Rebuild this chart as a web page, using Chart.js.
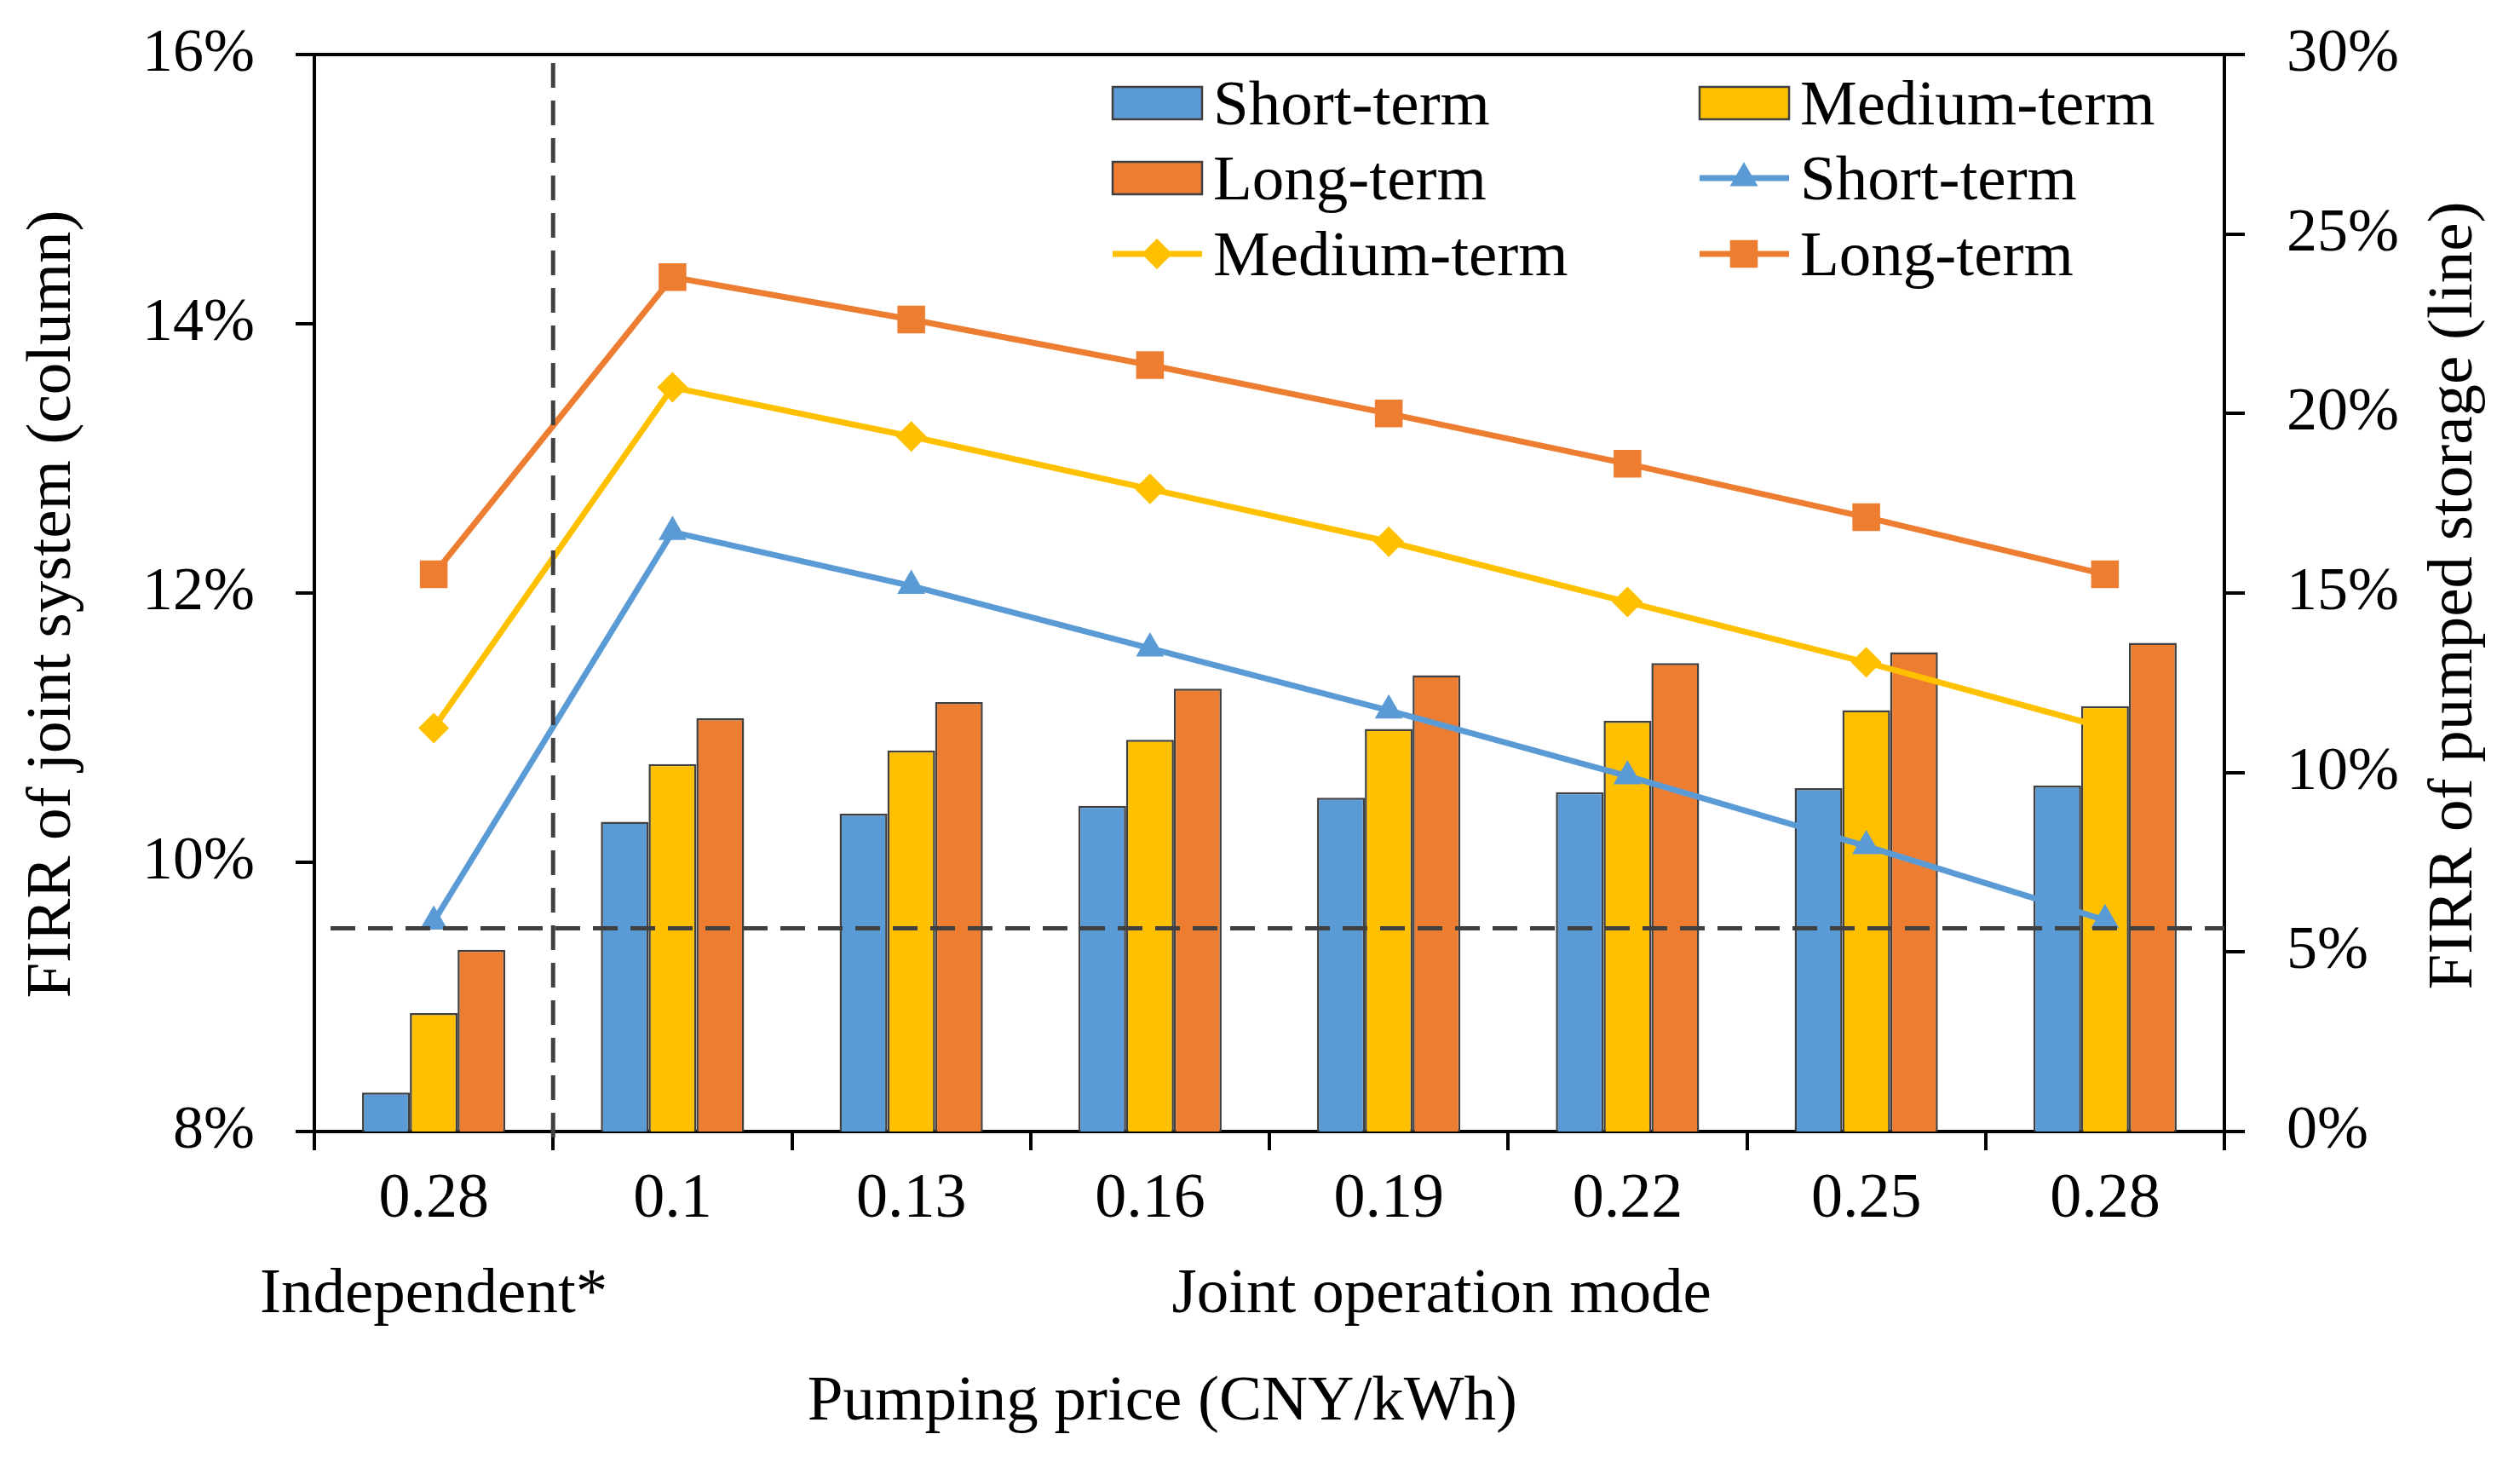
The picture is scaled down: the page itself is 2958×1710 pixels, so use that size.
<!DOCTYPE html>
<html>
<head>
<meta charset="utf-8">
<script src="https://cdn.jsdelivr.net/npm/chart.js@4.4.1/dist/chart.umd.min.js"></script>
<style>
  html, body { margin: 0; padding: 0; background: #fff; }
  #wrap { width: 2958px; height: 1710px; }
</style>
</head>
<body>
<div id="wrap"><canvas id="firrChart" width="2958" height="1710"></canvas></div>
<script>
// Pumping price categories (first one is the independent mode)
const categories = ['0.28', '0.1', '0.13', '0.16', '0.19', '0.22', '0.25', '0.28'];

// FIRR of joint system (column, left axis, %)
const barShort = [8.29, 10.30, 10.36, 10.42, 10.48, 10.52, 10.55, 10.57];
const barMedium = [8.88, 10.73, 10.83, 10.91, 10.99, 11.05, 11.13, 11.16];
const barLong = [9.35, 11.07, 11.19, 11.29, 11.39, 11.48, 11.56, 11.63];

// FIRR of pumped storage (line, right axis, %)
const lineShort = [5.85, 16.7, 15.2, 13.46, 11.73, 9.9, 7.95, 5.89];
const lineMedium = [11.24, 20.73, 19.36, 17.9, 16.43, 14.75, 13.07, 11.25];
const lineLong = [15.52, 23.8, 22.62, 21.35, 20.0, 18.6, 17.11, 15.52];

// benchmark line on the left axis (%)
const benchmark = 9.51;

const FONT = '"Liberation Serif", "Times New Roman", serif';
const BLUE = '#5B9BD5';
const YELLOW = '#FFC000';
const ORANGE = '#ED7D31';
const EDGE = '#404040';

// Dashed reference lines
const dashPlugin = {
  id: 'dashLines',
  afterDatasetsDraw(chart) {
    const { ctx, chartArea } = chart;
    const x = chart.scales.x;
    const y = chart.scales.y;
    const xb = (x.getPixelForValue(0) + x.getPixelForValue(1)) / 2;
    const yb = y.getPixelForValue(benchmark);
    ctx.save();
    ctx.strokeStyle = EDGE;
    ctx.lineWidth = 5;
    ctx.setLineDash([29, 15]);
    ctx.beginPath();
    ctx.moveTo(chartArea.left + 19, yb);
    ctx.lineTo(chartArea.right, yb);
    ctx.stroke();
    ctx.beginPath();
    ctx.moveTo(xb, chartArea.top + 10);
    ctx.lineTo(xb, chartArea.bottom + 22);
    ctx.stroke();
    ctx.restore();
  }
};

// Two-column legend in the upper right of the plot
const legendItems = [
  { ds: 0, col: 0, row: 0 }, { ds: 1, col: 1, row: 0 },
  { ds: 2, col: 0, row: 1 }, { ds: 3, col: 1, row: 1 },
  { ds: 4, col: 0, row: 2 }, { ds: 5, col: 1, row: 2 }
];
const legendPlugin = {
  id: 'boxLegend',
  afterDraw(chart) {
    const ctx = chart.ctx;
    const colX = [1306, 1995];
    const rowY = [121, 209, 298];
    ctx.save();
    ctx.font = `75px ${FONT}`;
    ctx.textAlign = 'left';
    ctx.textBaseline = 'alphabetic';
    legendItems.forEach(item => {
      const ds = chart.data.datasets[item.ds];
      const x = colX[item.col];
      const y = rowY[item.row];
      if (ds.type === 'bar') {
        ctx.fillStyle = ds.backgroundColor;
        ctx.fillRect(x, y - 19, 105, 38);
        ctx.strokeStyle = ds.borderColor;
        ctx.lineWidth = 2.5;
        ctx.strokeRect(x, y - 19, 105, 38);
      } else {
        ctx.strokeStyle = ds.borderColor;
        ctx.lineWidth = ds.borderWidth;
        ctx.beginPath();
        ctx.moveTo(x, y);
        ctx.lineTo(x + 105, y);
        ctx.stroke();
        ctx.fillStyle = ds.pointBackgroundColor;
        Chart.helpers.drawPoint(ctx, { pointStyle: ds.pointStyle, radius: ds.pointRadius, borderWidth: 0, rotation: 0 }, x + 52, y);
      }
      ctx.fillStyle = '#000';
      ctx.fillText(ds.label, x + 118, y + 25);
    });
    ctx.restore();
  }
};

// Axis titles and group labels under the category axis
const textPlugin = {
  id: 'axisTexts',
  afterDraw(chart) {
    const { ctx, chartArea } = chart;
    const x = chart.scales.x;
    ctx.save();
    ctx.fillStyle = '#000';
    ctx.font = `75px ${FONT}`;
    ctx.textAlign = 'center';
    ctx.textBaseline = 'alphabetic';
    ctx.fillText('Independent*', x.getPixelForValue(0), 1540);
    ctx.fillText('Joint operation mode', (x.getPixelForValue(1) + chartArea.right) / 2 - 8, 1540);
    ctx.fillText('Pumping price (CNY/kWh)', chartArea.left + 0.444 * (chartArea.right - chartArea.left), 1666);

    ctx.textBaseline = 'middle';
    ctx.translate(62, 709);
    ctx.rotate(-Math.PI / 2);
    ctx.fillText('FIRR of joint system (column)', 0, 0);
    ctx.restore();

    ctx.save();
    ctx.fillStyle = '#000';
    ctx.font = `75px ${FONT}`;
    ctx.textAlign = 'center';
    ctx.textBaseline = 'middle';
    ctx.translate(2881, 699);
    ctx.rotate(-Math.PI / 2);
    ctx.fillText('FIRR of pumped storage (line)', 0, 0);
    ctx.restore();
  }
};

const barStyle = (label, data, color) => ({
  type: 'bar',
  label: label,
  data: data,
  yAxisID: 'y',
  backgroundColor: color,
  borderColor: EDGE,
  borderWidth: 2.5,
  categoryPercentage: 0.6,
  barPercentage: 1.0,
  order: 1
});

const lineStyle = (label, data, color, pointStyle, radius) => ({
  type: 'line',
  label: label,
  data: data,
  yAxisID: 'y1',
  borderColor: color,
  backgroundColor: color,
  pointBackgroundColor: color,
  pointBorderColor: color,
  pointBorderWidth: 0,
  borderWidth: 7,
  pointStyle: pointStyle,
  pointRadius: radius,
  tension: 0,
  fill: false,
  order: 0
});

// keep the plot area fixed: no extra label padding from the axes
const noPad = (s) => {
  s.paddingTop = 0;
  s.paddingBottom = 0;
  s.paddingLeft = 0;
  s.paddingRight = 0;
};

const ctx = document.getElementById('firrChart').getContext('2d');
new Chart(ctx, {
  data: {
    labels: categories,
    datasets: [
      barStyle('Short-term', barShort, BLUE),
      barStyle('Medium-term', barMedium, YELLOW),
      barStyle('Long-term', barLong, ORANGE),
      lineStyle('Short-term', lineShort, BLUE, 'triangle', 19),
      lineStyle('Medium-term', lineMedium, YELLOW, 'rectRot', 18),
      lineStyle('Long-term', lineLong, ORANGE, 'rect', 23)
    ]
  },
  options: {
    responsive: false,
    devicePixelRatio: 1,
    animation: false,
    layout: { padding: { top: 64, left: 0, right: 0, bottom: 0 } },
    plugins: {
      legend: { display: false },
      tooltip: { enabled: false },
      title: { display: false }
    },
    scales: {
      x: {
        type: 'category',
        offset: true,
        afterFit: (s) => { s.height = 382; noPad(s); },
        grid: {
          offset: true,
          drawOnChartArea: false,
          color: '#000',
          lineWidth: 4,
          tickLength: 22
        },
        border: { color: '#000', width: 4 },
        ticks: {
          color: '#000',
          padding: 14,
          font: { family: FONT, size: 74 },
          maxRotation: 0,
          autoSkip: false
        }
      },
      y: {
        position: 'left',
        min: 8,
        max: 16,
        afterFit: (s) => { s.width = 369; noPad(s); },
        grid: {
          drawOnChartArea: true,
          color: (c) => (c.tick && c.tick.value === 16 ? '#000' : 'rgba(0,0,0,0)'),
          tickColor: '#000',
          lineWidth: 4,
          tickLength: 22
        },
        border: { color: '#000', width: 4 },
        ticks: {
          stepSize: 2,
          color: '#000',
          padding: 48,
          font: { family: FONT, size: 72 },
          callback: (v) => v + '%'
        }
      },
      y1: {
        position: 'right',
        min: 0,
        max: 30,
        afterFit: (s) => { s.width = 347; noPad(s); },
        grid: {
          drawOnChartArea: false,
          color: '#000',
          lineWidth: 4,
          tickLength: 24
        },
        border: { color: '#000', width: 4 },
        ticks: {
          stepSize: 5,
          color: '#000',
          padding: 49,
          font: { family: FONT, size: 72 },
          callback: (v) => v + '%'
        }
      }
    }
  },
  plugins: [dashPlugin, legendPlugin, textPlugin]
});
</script>
</body>
</html>
